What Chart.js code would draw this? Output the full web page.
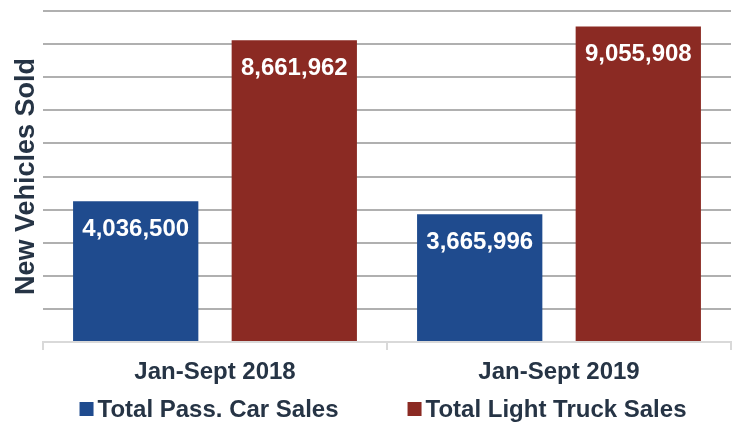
<!DOCTYPE html>
<html>
<head>
<meta charset="utf-8">
<script src="https://cdn.jsdelivr.net/npm/chart.js@4/dist/chart.umd.min.js"></script>
<style>
  html, body { margin: 0; padding: 0; background: #fff; }
  #wrap { width: 734px; height: 422px; }
</style>
</head>
<body>
<div id="wrap"><canvas id="salesChart" width="734" height="422"></canvas></div>
<script>
const categories = ['Jan-Sept 2018', 'Jan-Sept 2019'];
const carSales = [4036500, 3665996];
const truckSales = [8661962, 9055908];
const seriesNames = ['Total Pass. Car Sales', 'Total Light Truck Sales'];

const textColor = '#263445';
const fontFamily = '"Liberation Sans", Arial, sans-serif';

// white value labels near the top inside each bar
const barLabels = {
  id: 'barLabels',
  afterDatasetsDraw(chart) {
    const ctx = chart.ctx;
    ctx.save();
    ctx.fillStyle = '#ffffff';
    ctx.font = 'bold 24px ' + fontFamily;
    ctx.textAlign = 'center';
    ctx.textBaseline = 'middle';
    chart.data.datasets.forEach((ds, i) => {
      chart.getDatasetMeta(i).data.forEach((bar, j) => {
        ctx.fillText(ds.data[j].toLocaleString('en-US'), bar.x, bar.y + 28);
      });
    });
    ctx.restore();
  }
};

// one-row legend under the axis, spaced like the original
const legendRow = {
  id: 'legendRow',
  afterDraw(chart) {
    const ctx = chart.ctx;
    const area = chart.chartArea;
    const box = 14, textGap = 4, itemGap = 69;
    ctx.save();
    ctx.font = 'bold 24px ' + fontFamily;
    ctx.textBaseline = 'middle';
    const items = chart.data.datasets.map(ds => ({
      text: ds.label,
      color: ds.backgroundColor,
      w: box + textGap + ctx.measureText(ds.label).width
    }));
    const total = items.reduce((s, it) => s + it.w, 0) + itemGap * (items.length - 1);
    let x = (area.left + area.right - total) / 2 - 4;
    const y = chart.height - 12;
    items.forEach(it => {
      ctx.fillStyle = it.color;
      ctx.fillRect(x, y - box / 2 - 1, box, box);
      ctx.fillStyle = textColor;
      ctx.fillText(it.text, x + box + textGap, y);
      x += it.w + itemGap;
    });
    ctx.restore();
  }
};

new Chart(document.getElementById('salesChart').getContext('2d'), {
  type: 'bar',
  data: {
    labels: categories,
    datasets: [{
      label: seriesNames[0],
      data: carSales,
      backgroundColor: '#1f4b8e'
    }, {
      label: seriesNames[1],
      data: truckSales,
      backgroundColor: '#8b2a23'
    }]
  },
  options: {
    responsive: false,
    animation: false,
    categoryPercentage: 0.922,
    barPercentage: 0.79,
    layout: { padding: { top: 11, right: 3, left: 0, bottom: 32 } },
    scales: {
      x: {
        grid: { offset: true, drawOnChartArea: false, color: '#d9d9d9', lineWidth: 2, tickLength: 8 },
        border: { color: '#d9d9d9', width: 2 },
        ticks: {
          color: textColor,
          font: { family: fontFamily, size: 24, weight: 'bold' },
          padding: 8
        },
        afterFit(scale) { scale.height = 48; }
      },
      y: {
        min: 0,
        max: 9500000,
        ticks: { stepSize: 950000, display: false },
        grid: { color: '#b0b0b0', lineWidth: 2, drawTicks: false },
        border: { display: false },
        title: {
          display: true,
          text: 'New Vehicles Sold',
          color: textColor,
          padding: { top: 10, bottom: 0 },
          font: { family: fontFamily, size: 27, weight: 'bold' }
        },
        afterFit(scale) { scale.width = 43; }
      }
    },
    plugins: {
      legend: { display: false },
      tooltip: { enabled: false }
    }
  },
  plugins: [barLabels, legendRow]
});
</script>
</body>
</html>
